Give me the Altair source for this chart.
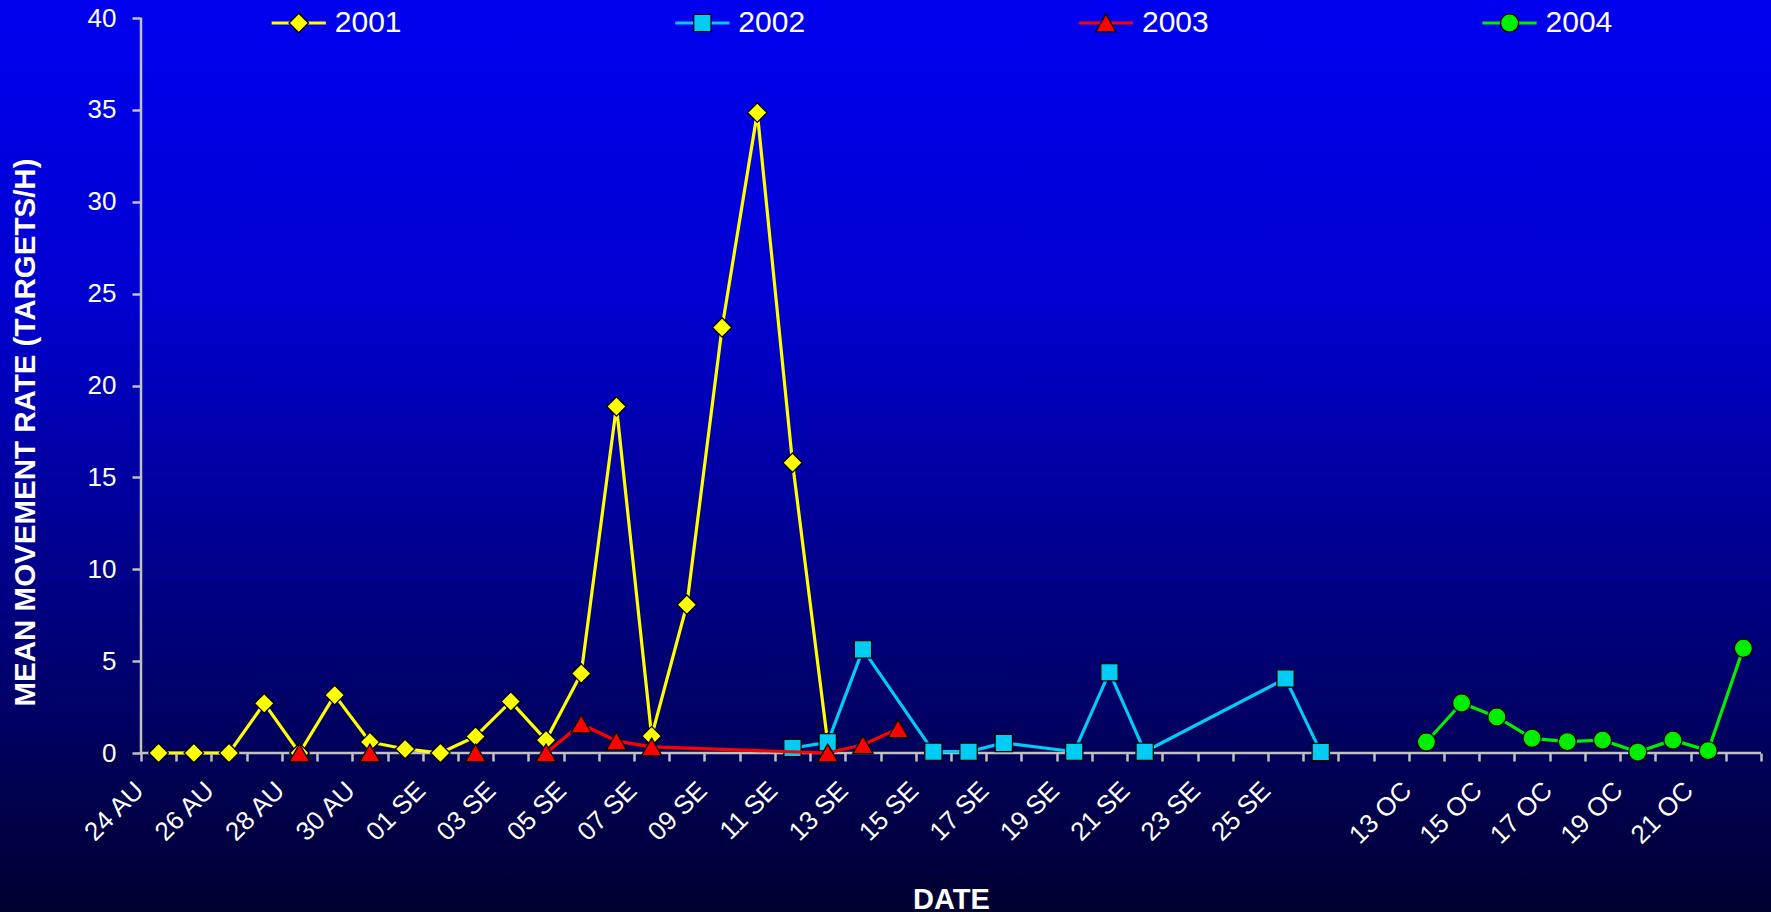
import json

import altair as alt
import pandas as pd

# One slot per day; two unlabelled slots mark the break between September and October
dates = [
    "24 AU", "25 AU", "26 AU", "27 AU", "28 AU", "29 AU", "30 AU", "31 AU",
    "01 SE", "02 SE", "03 SE", "04 SE", "05 SE", "06 SE", "07 SE", "08 SE",
    "09 SE", "10 SE", "11 SE", "12 SE", "13 SE", "14 SE", "15 SE", "16 SE",
    "17 SE", "18 SE", "19 SE", "20 SE", "21 SE", "22 SE", "23 SE", "24 SE",
    "25 SE", "26 SE", "", "",
    "13 OC", "14 OC", "15 OC", "16 OC", "17 OC", "18 OC", "19 OC", "20 OC",
    "21 OC", "22 OC",
]

years = ["2001", "2002", "2003", "2004"]

# Mean movement rate (targets/h) per night and season
rate_2001 = {
    "24 AU": 0.0, "25 AU": 0.0, "26 AU": 0.0, "27 AU": 2.7, "28 AU": 0.0,
    "29 AU": 3.15, "30 AU": 0.6, "31 AU": 0.22, "01 SE": 0.0, "02 SE": 0.9,
    "03 SE": 2.8, "04 SE": 0.7, "05 SE": 4.33, "06 SE": 18.86, "07 SE": 0.92,
    "08 SE": 8.07, "09 SE": 23.16, "10 SE": 34.85, "11 SE": 15.8, "12 SE": 0.55,
}
rate_2002 = {
    "11 SE": 0.27, "12 SE": 0.58, "13 SE": 5.64, "15 SE": 0.07, "16 SE": 0.07,
    "17 SE": 0.55, "19 SE": 0.07, "20 SE": 4.4, "21 SE": 0.07, "25 SE": 4.05,
    "26 SE": 0.05,
}
rate_2003 = {
    "28 AU": 0.0, "30 AU": 0.0, "02 SE": 0.0, "04 SE": 0.0, "05 SE": 1.58,
    "06 SE": 0.65, "07 SE": 0.33, "12 SE": 0.0, "13 SE": 0.45, "14 SE": 1.32,
}
# isolated 2003 nights that are not joined to their neighbours by the line
unjoined_2003 = ["28 AU", "30 AU", "02 SE"]
rate_2004 = {
    "13 OC": 0.6, "14 OC": 2.72, "15 OC": 1.96, "16 OC": 0.8, "17 OC": 0.62,
    "18 OC": 0.7, "19 OC": 0.05, "20 OC": 0.7, "21 OC": 0.13, "22 OC": 5.7,
}

series_rates = [rate_2001, rate_2002, rate_2003, rate_2004]
colors = ["#FFFF00", "#00CCF5", "#FF0000", "#00EE00"]
shapes = ["diamond", "square", "triangle-up", "circle"]
sizes = [380, 300, 420, 330]

FONT = "Liberation Sans"
AXIS_GREY = "#C0C0C0"
W, H = 1620, 735
PAD = {"left": 141, "top": 18, "right": 10, "bottom": 159}

rows = []
for year, rates in zip(years, series_rates):
    for day, value in rates.items():
        rows.append({
            "year": year,
            "idx": dates.index(day),
            "rate": value,
            "joined": not (year == "2003" and day in unjoined_2003),
        })
df = pd.DataFrame(rows)

# legend entries spread evenly across the top of the plot
legend_df = pd.DataFrame({"year": years, "slot": list(range(len(years)))})

one_row = pd.DataFrame({"k": [0]})

x_scale = alt.Scale(domain=[0, len(dates)], nice=False, zero=False)
y_scale = alt.Scale(domain=[0, 40], nice=False)

tick_text = [d if i % 2 == 0 else "" for i, d in enumerate(dates)] + [""]

x_axis = alt.Axis(
    values=list(range(len(dates) + 1)),
    labelExpr=json.dumps(tick_text) + "[datum.value]",
    labelAngle=315, labelAlign="right", labelBaseline="middle",
    labelFontSize=26, labelColor="white", labelFont=FONT,
    labelPadding=25, labelOffset=-2, labelOverlap=False, labelFlush=False,
    tickColor=AXIS_GREY, tickSize=8, tickWidth=2.5,
    domain=False, grid=False, zindex=1,
    title="DATE", titleFont=FONT, titleFontSize=29, titleFontWeight="bold",
    titleColor="white", titleX=W / 2, titleY=155,
    titleAlign="center", titleBaseline="alphabetic",
)
y_axis = alt.Axis(
    values=list(range(0, 41, 5)),
    labelFontSize=26, labelColor="white", labelFont=FONT, labelPadding=16,
    tickColor=AXIS_GREY, tickSize=9, tickWidth=2.5,
    domain=False, grid=False, zindex=1,
    title="MEAN MOVEMENT RATE (TARGETS/H)", titleFont=FONT, titleFontSize=29.5,
    titleFontWeight="bold", titleColor="white", titleAngle=270,
    titleX=-116, titleY=414, titleAlign="center", titleBaseline="middle",
)


def X(field):
    return alt.X(field, type="quantitative", scale=x_scale, axis=x_axis)


def Y(field):
    return alt.Y(field, type="quantitative", scale=y_scale, axis=y_axis)


layers = []

# gradient backdrop behind the whole figure
backdrop = alt.Gradient(
    gradient="linear",
    stops=[
        alt.GradientStop(color="#0000F0", offset=0),
        alt.GradientStop(color="#0000D0", offset=0.33),
        alt.GradientStop(color="#000082", offset=0.66),
        alt.GradientStop(color="#000030", offset=1),
    ],
    x1=0, x2=0, y1=0, y2=1,
)
layers.append(
    alt.Chart(one_row).mark_rect(fill=backdrop).encode(
        x=alt.value(-PAD["left"]), x2=alt.value(W + PAD["right"]),
        y=alt.value(-PAD["top"]), y2=alt.value(H + PAD["bottom"]),
    )
)

# axis lines, drawn under the series
layers.append(
    alt.Chart(one_row).mark_rule(color=AXIS_GREY, strokeWidth=2.5).encode(
        x=alt.XDatum(0, type="quantitative", scale=x_scale, axis=x_axis),
        x2=alt.X2Datum(len(dates)),
        y=alt.YDatum(0, type="quantitative", scale=y_scale, axis=y_axis),
    )
)
layers.append(
    alt.Chart(one_row).mark_rule(color=AXIS_GREY, strokeWidth=2.5).encode(
        x=alt.XDatum(0, type="quantitative", scale=x_scale, axis=x_axis),
        y=alt.YDatum(0, type="quantitative", scale=y_scale, axis=y_axis),
        y2=alt.Y2Datum(40),
    )
)

# one line + markers per season, in season order
for year, color, shape, size in zip(years, colors, shapes, sizes):
    base = alt.Chart(df).transform_filter(
        alt.datum.year == year
    ).transform_calculate(pos="datum.idx + 0.5")
    layers.append(
        base.transform_filter("datum.joined").mark_line(
            color=color, strokeWidth=3.2, strokeJoin="round"
        ).encode(x=X("pos"), y=Y("rate"))
    )
    layers.append(
        base.mark_point(
            shape=shape, size=size, filled=True, fill=color,
            stroke="black", strokeWidth=1.3, opacity=1,
        ).encode(x=X("pos"), y=Y("rate"))
    )

# legend row
for year, color, shape, size in zip(years, colors, shapes, sizes):
    leg = alt.Chart(legend_df).transform_filter(
        alt.datum.year == year
    ).transform_calculate(
        lx="4.48 + 11.46 * datum.slot",
        lo="4.48 + 11.46 * datum.slot - 0.77",
        hi="4.48 + 11.46 * datum.slot + 0.77",
    )
    layers.append(
        leg.mark_rule(color=color, strokeWidth=3.2).encode(
            x=X("lo"), x2="hi:Q", y=alt.value(5)
        )
    )
    layers.append(
        leg.mark_point(
            shape=shape, size=size, filled=True, fill=color,
            stroke="black", strokeWidth=1.3, opacity=1,
        ).encode(x=X("lx"), y=alt.value(5))
    )
    layers.append(
        leg.mark_text(
            align="left", baseline="middle", dx=36, fontSize=30,
            font=FONT, color="white",
        ).encode(x=X("lx"), y=alt.value(5), text="year:N")
    )

chart = alt.layer(*layers).properties(
    width=W,
    height=H,
    padding=PAD,
    autosize=alt.AutoSizeParams(type="none"),
    background="#000033",
).configure_view(stroke=None)

chart.save("out.html", embed_options={"renderer": "svg", "actions": False})
